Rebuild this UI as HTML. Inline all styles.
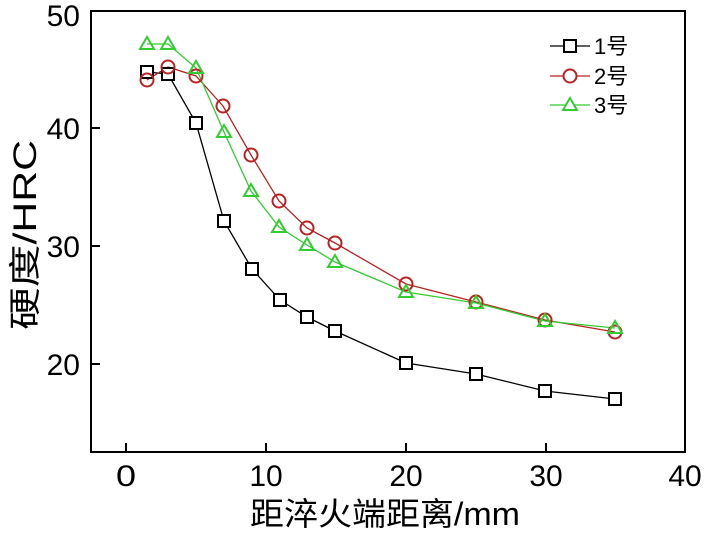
<!DOCTYPE html>
<html><head><meta charset="utf-8"><style>body{margin:0;background:#fff}</style></head><body>
<svg width="709" height="532" xmlns="http://www.w3.org/2000/svg" font-family="'Liberation Sans','Noto Sans CJK SC',sans-serif">
<rect x="91" y="11" width="594" height="441" fill="none" stroke="#000" stroke-width="2"/>
<g stroke="#000" stroke-width="2">
<line x1="126" y1="452" x2="126" y2="443"/><line x1="266" y1="452" x2="266" y2="443"/><line x1="406" y1="452" x2="406" y2="443"/><line x1="546" y1="452" x2="546" y2="443"/>
<line x1="91" y1="128" x2="100" y2="128"/><line x1="91" y1="246" x2="100" y2="246"/><line x1="91" y1="364" x2="100" y2="364"/>
</g>
<g font-size="30" fill="#000" text-anchor="middle">
<text x="126" y="486" textLength="20" lengthAdjust="spacingAndGlyphs">0</text><text x="266" y="486">10</text><text x="406" y="486">20</text><text x="546" y="486">30</text><text x="685" y="486">40</text>
</g>
<g font-size="30" fill="#000" text-anchor="end">
<text x="80" y="26">50</text><text x="80" y="139">40</text><text x="80" y="257">30</text><text x="80" y="375">20</text>
</g>
<text x="385" y="525" font-size="32" text-anchor="middle" textLength="270" lengthAdjust="spacingAndGlyphs">距淬火端距离/mm</text>
<text transform="translate(36,235) rotate(-90)" font-size="32" text-anchor="middle" textLength="190" lengthAdjust="spacingAndGlyphs">硬度/HRC</text>
<polyline fill="none" stroke="#000" stroke-width="1.3" points="147,72 168,74 196,123 224,221 252,269 280,300 307,317 335,331 406,363 476,374 545,391 615,399"/>
<polyline fill="none" stroke="#b22" stroke-width="1.3" points="147,80 168,67 196,76 223,106 251,155 279,201 307,228 335,243 406,284 476,302 545,320 615,332"/>
<polyline fill="none" stroke="#3c3" stroke-width="1.3" points="147,44 168,44 196,68 224,132 251,191 279,227 307,245 335,262 406,292 476,303 545,321 615,328"/>
<g fill="#fff" stroke="#000" stroke-width="2">
<rect x="141" y="66" width="12" height="12"/><rect x="162" y="68" width="12" height="12"/><rect x="190" y="117" width="12" height="12"/><rect x="218" y="215" width="12" height="12"/><rect x="246" y="263" width="12" height="12"/><rect x="274" y="294" width="12" height="12"/><rect x="301" y="311" width="12" height="12"/><rect x="329" y="325" width="12" height="12"/><rect x="400" y="357" width="12" height="12"/><rect x="470" y="368" width="12" height="12"/><rect x="539" y="385" width="12" height="12"/><rect x="609" y="393" width="12" height="12"/>
</g>
<g fill="none" stroke="#b22" stroke-width="2">
<circle cx="147" cy="80" r="6.5"/><circle cx="168" cy="67" r="6.5"/><circle cx="196" cy="76" r="6.5"/><circle cx="223" cy="106" r="6.5"/><circle cx="251" cy="155" r="6.5"/><circle cx="279" cy="201" r="6.5"/><circle cx="307" cy="228" r="6.5"/><circle cx="335" cy="243" r="6.5"/><circle cx="406" cy="284" r="6.5"/><circle cx="476" cy="302" r="6.5"/><circle cx="545" cy="320" r="6.5"/><circle cx="615" cy="332" r="6.5"/>
</g>
<g fill="none" stroke="#3c3" stroke-width="2">
<path d="M147,37 l7,12 h-14z M168,37 l7,12 h-14z M196,61 l7,12 h-14z M224,125 l7,12 h-14z M251,184 l7,12 h-14z M279,220 l7,12 h-14z M307,238 l7,12 h-14z M335,255 l7,12 h-14z M406,285 l7,12 h-14z M476,296 l7,12 h-14z M545,314 l7,12 h-14z M615,321 l7,12 h-14z"/>
</g>
<line x1="550" y1="46" x2="590" y2="46" stroke="#000" stroke-width="1.3"/>
<line x1="550" y1="76" x2="590" y2="76" stroke="#b22" stroke-width="1.3"/>
<line x1="550" y1="105" x2="590" y2="105" stroke="#3c3" stroke-width="1.3"/>
<rect x="564" y="40" width="12" height="12" fill="#fff" stroke="#000" stroke-width="2"/>
<circle cx="570" cy="76" r="6.5" fill="#fff" stroke="#b22" stroke-width="2"/>
<path d="M570,98 l7,12 h-14z" fill="#fff" stroke="#3c3" stroke-width="2"/>
<g font-size="22" fill="#000">
<text x="594" y="54">1号</text><text x="594" y="84">2号</text><text x="594" y="113">3号</text>
</g>
</svg>
</body></html>
